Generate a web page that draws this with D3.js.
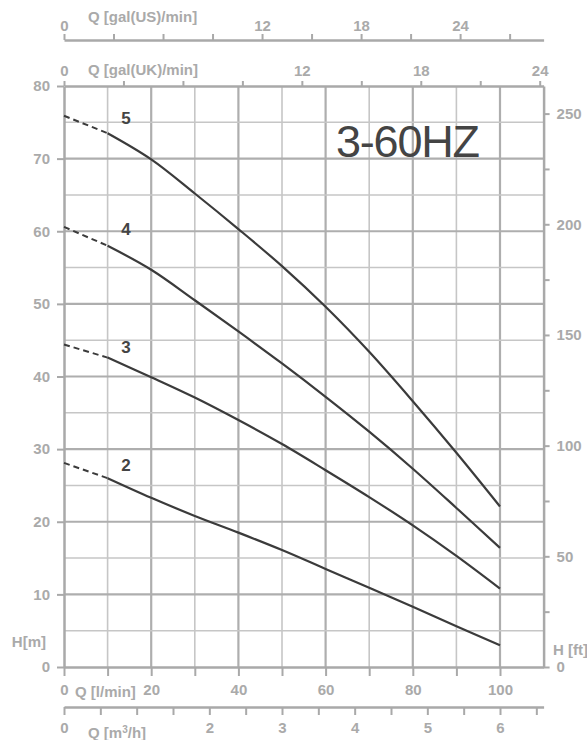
<!DOCTYPE html>
<html>
<head>
<meta charset="utf-8">
<script src="https://cdn.jsdelivr.net/npm/d3@7"></script>
<style>
  body { margin: 0; background: #fff; }
  text { font-family: "Liberation Sans", Arial, Helvetica, sans-serif; }
</style>
</head>
<body>
<div id="chart"></div>
<script>
// flow points (l/min) and head (m) for each stage curve
var flowLpm = [0, 10, 20, 30, 40, 50, 60, 70, 80, 90, 100];
var head2 = [28.1, 26.0, 23.3, 20.8, 18.5, 16.1, 13.5, 10.9, 8.3, 5.6, 3.0];
var head3 = [44.4, 42.6, 39.9, 37.1, 34.0, 30.7, 27.1, 23.4, 19.5, 15.3, 10.8];
var head4 = [60.6, 58.0, 54.7, 50.5, 46.2, 41.8, 37.2, 32.4, 27.3, 21.9, 16.4];
var head5 = [75.9, 73.5, 69.9, 65.2, 60.3, 55.2, 49.6, 43.4, 36.6, 29.5, 22.1];
var stageNames = ["2", "3", "4", "5"];

// tick labels for every axis
var hTicks = [0, 10, 20, 30, 40, 50, 60, 70, 80];
var ftTicks = [0, 25, 50, 75, 100, 125, 150, 175, 200, 225, 250];
var ftLabels = [0, 50, 100, 150, 200, 250];
var lpmTicks = [0, 10, 20, 30, 40, 50, 60, 70, 80, 90, 100];
var lpmLabels = [0, 20, 40, 60, 80, 100];
var m3hTicks = [0, 0.5, 1, 1.5, 2, 2.5, 3, 3.5, 4, 4.5, 5, 5.5, 6, 6.5];
var m3hLabels = [0, 2, 3, 4, 5, 6];
var usTicks = [0, 3, 6, 9, 12, 15, 18, 21, 24, 27];
var ukTicks = [0, 3, 6, 9, 12, 15, 18, 21, 24];
var galLabels = [0, 12, 18, 24];

var width = 587, height = 740;
// plot edges (named so they do not clash with window.top)
var plotL = 64, plotR = 543.6, plotT = 86, plotB = 667;
var axisGrey = "#a9a9a9", textGrey = "#aaaaaa", ink = "#3b3b3b";

var svg = d3.select("#chart").append("svg")
  .attr("width", width)
  .attr("height", height);

// scales, all the flow ones share the same pixel range
var x = d3.scaleLinear().domain([0, 110]).range([plotL, plotR]);
var y = d3.scaleLinear().domain([0, 80]).range([plotB, plotT]);
var yFt = d3.scaleLinear().domain([0, 80 / 0.3048]).range([plotB, plotT]);
var xUS = d3.scaleLinear().domain([0, 110 / 3.78541]).range([plotL, plotR]);
var xUK = d3.scaleLinear().domain([0, 110 / 4.54609]).range([plotL, plotR]);
var xM3 = d3.scaleLinear().domain([0, 110 * 0.06]).range([plotL, plotR]);

// grid lines
var grid = svg.append("g");
grid.selectAll(".vgrid")
  .data(d3.range(10, 101, 10))
  .enter().append("line")
  .attr("x1", d => x(d)).attr("x2", d => x(d))
  .attr("y1", plotT).attr("y2", plotB)
  .attr("stroke", d => d % 20 == 0 ? "#aeaeae" : "#c6c6c6")
  .attr("stroke-width", d => d % 20 == 0 ? 2.2 : 1.6);
grid.selectAll(".hgrid")
  .data(d3.range(5, 80, 5))
  .enter().append("line")
  .attr("x1", plotL).attr("x2", plotR)
  .attr("y1", d => y(d)).attr("y2", d => y(d))
  .attr("stroke", d => d % 10 == 0 ? "#aeaeae" : "#c6c6c6")
  .attr("stroke-width", d => d % 10 == 0 ? 2.2 : 1.6);

function styleAxis(g, labels) {
  g.select(".domain").attr("stroke", axisGrey).attr("stroke-width", 2.5);
  g.selectAll(".tick line").attr("stroke", axisGrey).attr("stroke-width", 2);
  g.selectAll(".tick text")
    .attr("fill", textGrey)
    .style("font-size", "15px")
    .style("font-weight", "bold")
    .text(function(d) { return labels.indexOf(d) >= 0 ? d : ""; });
}

// left axis H[m]
var gLeft = svg.append("g").attr("transform", "translate(" + plotL + ",0)")
  .call(d3.axisLeft(y).tickValues(hTicks).tickSize(7).tickSizeOuter(0).tickPadding(7));
styleAxis(gLeft, hTicks);

// right axis H[ft]
var gRight = svg.append("g").attr("transform", "translate(" + plotR + ",0)")
  .call(d3.axisRight(yFt).tickValues(ftTicks).tickSize(6).tickSizeOuter(0).tickPadding(7));
styleAxis(gRight, ftLabels);

// bottom axis l/min
var gLpm = svg.append("g").attr("transform", "translate(0," + plotB + ")")
  .call(d3.axisBottom(x).tickValues(lpmTicks).tickSize(9).tickSizeOuter(0).tickPadding(8));
styleAxis(gLpm, lpmLabels);

// bottom axis m3/h
var gM3 = svg.append("g").attr("transform", "translate(0,707)")
  .call(d3.axisBottom(xM3).tickValues(m3hTicks).tickSize(8).tickSizeOuter(0).tickPadding(7));
styleAxis(gM3, m3hLabels);

// top axis gal(US)/min
var gUS = svg.append("g").attr("transform", "translate(0,40)")
  .call(d3.axisTop(xUS).tickValues(usTicks).tickSize(6).tickSizeOuter(0).tickPadding(3));
styleAxis(gUS, galLabels);

// top axis gal(UK)/min, this is also the top border of the plot
var gUK = svg.append("g").attr("transform", "translate(0," + plotT + ")")
  .call(d3.axisTop(xUK).tickValues(ukTicks).tickSize(5).tickSizeOuter(0).tickPadding(5));
styleAxis(gUK, galLabels);

// axis titles
var titles = [
  {t: "Q [gal(US)/min]", x: 88, y: 22, a: "start"},
  {t: "Q [gal(UK)/min]", x: 88, y: 75, a: "start"},
  {t: "Q [l/min]", x: 75, y: 697, a: "start"},
  {t: "H[m]", x: 46, y: 647, a: "end"},
  {t: "H [ft]", x: 553, y: 655, a: "start"}
];
svg.selectAll(".title")
  .data(titles)
  .enter().append("text")
  .attr("x", d => d.x).attr("y", d => d.y)
  .attr("text-anchor", d => d.a)
  .attr("fill", textGrey)
  .style("font-size", "15px")
  .style("font-weight", "bold")
  .text(d => d.t);

// m3/h title with the superscript 3
var m3Title = svg.append("text")
  .attr("x", 88).attr("y", 738)
  .attr("fill", textGrey)
  .style("font-size", "15px")
  .style("font-weight", "bold");
m3Title.append("tspan").text("Q [m");
m3Title.append("tspan").attr("dy", -5).style("font-size", "10px").text("3");
m3Title.append("tspan").attr("dy", 5).text("/h]");

// the pump curves: dashed up to 10 l/min, solid after that
var heads = [head2, head3, head4, head5];
var line = d3.line()
  .x(d => x(d[0]))
  .y(d => y(d[1]))
  .curve(d3.curveCatmullRom);

heads.forEach(function(h, i) {
  var pts = flowLpm.map((f, j) => [f, h[j]]);
  svg.append("path")
    .attr("d", line(pts.slice(0, 2)))
    .attr("fill", "none")
    .attr("stroke", ink)
    .attr("stroke-width", 2)
    .attr("stroke-dasharray", "6,4");
  svg.append("path")
    .attr("d", line(pts.slice(1)))
    .attr("fill", "none")
    .attr("stroke", ink)
    .attr("stroke-width", 2.2);
  // stage number next to the curve
  svg.append("text")
    .attr("x", x(14.2))
    .attr("y", y(h[0]))
    .attr("dy", "0.5em")
    .attr("text-anchor", "middle")
    .attr("fill", "#444")
    .style("font-size", "17px")
    .style("font-weight", "bold")
    .text(stageNames[i]);
});

// model name
svg.append("text")
  .attr("x", 336)
  .attr("y", 157)
  .attr("fill", "#444")
  .attr("textLength", 144)
  .style("font-size", "45px")
  .text("3-60HZ");
</script>
</body>
</html>
